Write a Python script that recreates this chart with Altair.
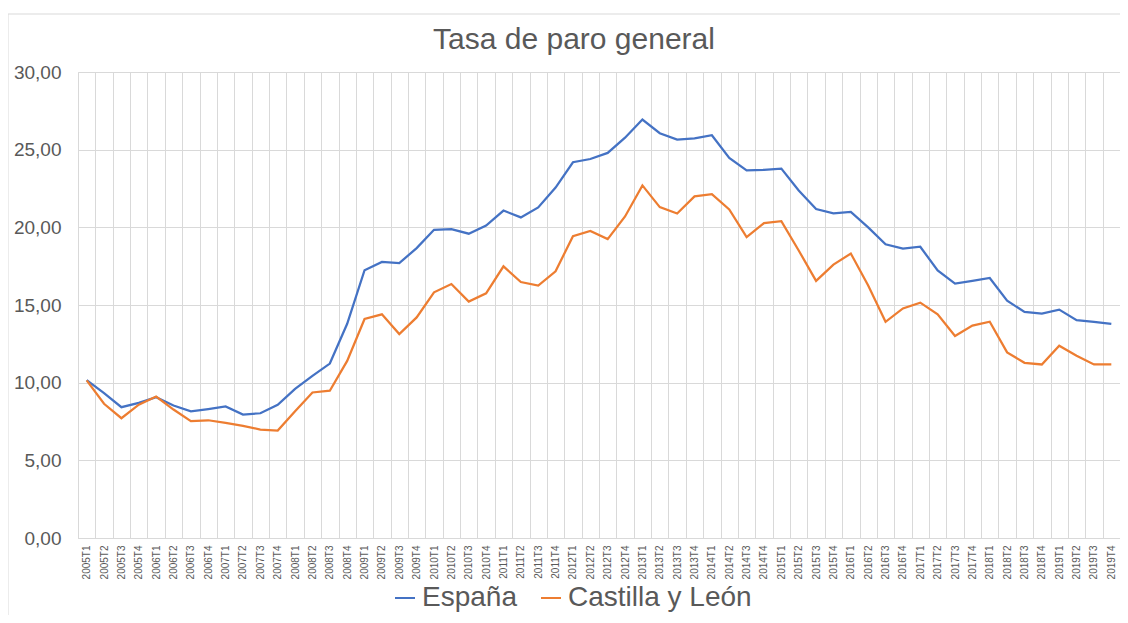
import altair as alt
import pandas as pd

quarters = [f"{y}T{q}" for y in range(2005, 2020) for q in range(1, 5)]

espana = [
    10.17, 9.33, 8.42, 8.70,
    9.07, 8.53, 8.15, 8.30,
    8.47, 7.95, 8.03, 8.57,
    9.60, 10.44, 11.23, 13.79,
    17.24, 17.77, 17.70, 18.66,
    19.84, 19.89, 19.59, 20.11,
    21.08, 20.64, 21.28, 22.56,
    24.19, 24.40, 24.79, 25.77,
    26.94, 26.06, 25.65, 25.73,
    25.93, 24.47, 23.67, 23.70,
    23.78, 22.37, 21.18, 20.90,
    21.00, 20.00, 18.91, 18.63,
    18.75, 17.22, 16.38, 16.55,
    16.74, 15.28, 14.55, 14.45,
    14.70, 14.02, 13.92, 13.78,
]

castilla = [
    10.15, 8.64, 7.71, 8.58,
    9.11, 8.27, 7.52, 7.58,
    7.41, 7.22, 6.98, 6.92,
    8.16, 9.37, 9.48, 11.40,
    14.10, 14.40, 13.13, 14.20,
    15.82, 16.35, 15.22, 15.75,
    17.49, 16.48, 16.25, 17.17,
    19.43, 19.77, 19.24, 20.70,
    22.70, 21.30, 20.89, 21.99,
    22.14, 21.15, 19.37, 20.27,
    20.40, 18.51, 16.55, 17.60,
    18.31, 16.25, 13.92, 14.78,
    15.15, 14.40, 13.00, 13.67,
    13.92, 11.95, 11.28, 11.17,
    12.38, 11.73, 11.17, 11.17,
]

series_names = ["España", "Castilla y León"]
series_colors = ["#4472C4", "#ED7D31"]
title_text = "Tasa de paro general"

rows = []
for i, q in enumerate(quarters):
    rows.append({"trimestre": q, "serie": series_names[0], "tasa": espana[i]})
    rows.append({"trimestre": q, "serie": series_names[1], "tasa": castilla[i]})
df = pd.DataFrame(rows)

FONT = "Liberation Sans"
GRID = "#d9d9d9"
TXT = "#595959"
W, H = 1042, 466

lines = alt.Chart(df).mark_line(strokeWidth=2.25).encode(
    x=alt.X(
        "trimestre:N",
        sort=quarters,
        scale=alt.Scale(type="band", paddingInner=0, paddingOuter=0),
        axis=alt.Axis(
            title=None,
            labelAngle=-90,
            labelFontSize=10,
            labelColor=TXT,
            labelFont=FONT,
            labelPadding=7,
            labelOverlap=False,
            ticks=False,
            grid=True,
            gridColor=GRID,
            gridWidth=1,
            tickBand="extent",
            domainColor=GRID,
            domainWidth=1,
        ),
    ),
    y=alt.Y(
        "tasa:Q",
        scale=alt.Scale(domain=[0, 30], nice=False),
        axis=alt.Axis(
            title=None,
            values=[0, 5, 10, 15, 20, 25, 30],
            labelExpr="replace(format(datum.value, '.2f'), '.', ',')",
            labelFontSize=19,
            labelColor=TXT,
            labelFont=FONT,
            labelPadding=17,
            ticks=False,
            domain=False,
            grid=True,
            gridColor=GRID,
            gridWidth=1,
        ),
    ),
    color=alt.Color(
        "serie:N",
        scale=alt.Scale(domain=series_names, range=series_colors),
        sort=series_names,
        legend=alt.Legend(
            title=None,
            orient="none",
            legendX=313,
            legendY=512,
            direction="horizontal",
            symbolType="stroke",
            symbolSize=400,
            symbolStrokeWidth=2,
            labelFontSize=28,
            labelFont=FONT,
            labelColor=TXT,
            labelOffset=3,
            labelLimit=0,
            columnPadding=20,
        ),
    ),
)

border_data = pd.DataFrame({"b": [0]})
border_left = alt.Chart(border_data).mark_rule(color=GRID, strokeWidth=1).encode(
    x=alt.value(-70),
    y=alt.value(-58),
    y2=alt.value(H + 120),
)
border_top = alt.Chart(border_data).mark_rule(color=GRID, strokeWidth=1).encode(
    x=alt.value(-70),
    x2=alt.value(W + 100),
    y=alt.value(-58),
)

title = alt.Chart(pd.DataFrame({"t": [title_text]})).mark_text(
    fontSize=30, font=FONT, color=TXT, align="center", baseline="alphabetic"
).encode(
    text="t:N",
    x=alt.value(496),
    y=alt.value(-23),
)

chart = alt.layer(border_left, border_top, lines, title).properties(
    width=W,
    height=H,
    autosize=alt.AutoSizeParams(type="none"),
    padding={"left": 70, "top": 64, "right": 0, "bottom": 77},
).configure_view(stroke=None).configure(background="white")

chart.save("out.html", embed_options={"renderer": "svg", "actions": False})
